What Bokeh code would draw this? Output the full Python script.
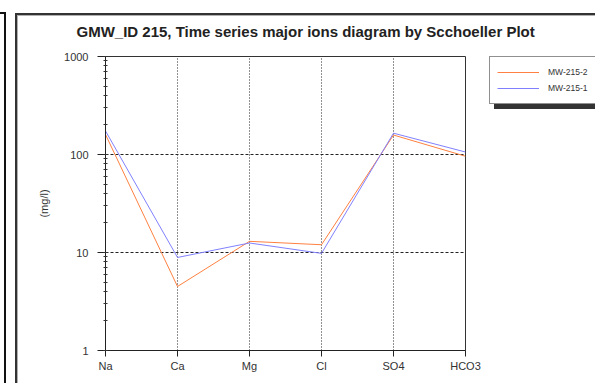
from bokeh.plotting import figure
from bokeh.models import (Range1d, FixedTicker, Legend, LegendItem, LogTicker)
from bokeh.embed import file_html
from bokeh.resources import INLINE

ions = ["Na", "Ca", "Mg", "Cl", "SO4", "HCO3"]
mw_215_2 = [160, 4.5, 13, 12, 158, 96]
mw_215_1 = [174, 8.9, 12.5, 9.8, 165, 106]
series_names = ["MW-215-2", "MW-215-1"]
series_colors = ["#ff8040", "#8080ff"]
y_ticks = [1, 10, 100, 1000]

xs = list(range(len(ions)))
FONT = "Liberation Sans"

p = figure(frame_width=360, frame_height=294, output_backend="svg", toolbar_location=None,
           y_axis_type="log", x_range=Range1d(0, len(ions) - 1),
           y_range=Range1d(1, 1000),
           min_border_left=105, min_border_right=0,
           min_border_top=56, min_border_bottom=33)
p.border_fill_color = None
p.background_fill_color = "white"

p.title.text = "GMW_ID 215, Time series major ions diagram by  Scchoeller Plot"
p.title.text_font = FONT
p.title.text_font_size = "15px"
p.title.text_font_style = "bold"
p.title.text_color = "#222222"
p.title.align = "left"
p.title.offset = -29
p.title.standoff = 34

p.outline_line_color = "#333333"
p.outline_line_width = 1

# x axis
p.xaxis.ticker = FixedTicker(ticks=xs)
p.xaxis.major_label_overrides = {i: n for i, n in enumerate(ions)}
p.xaxis.major_tick_out = 6
p.xaxis.major_tick_in = 0
p.xaxis.minor_tick_line_color = None
p.xaxis.major_label_text_font = FONT
p.xaxis.major_label_text_font_size = "11px"
p.xaxis.major_label_text_color = "#333333"
p.xaxis.major_label_standoff = 3
p.xaxis.axis_line_color = "#222222"
p.xaxis.major_tick_line_color = "#222222"

# y axis
p.yaxis.ticker = LogTicker(desired_num_ticks=4, num_minor_ticks=10)
p.yaxis.major_label_overrides = {t: str(t) for t in y_ticks}
p.yaxis.axis_label = "(mg/l)"
p.yaxis.axis_label_text_font = FONT
p.yaxis.axis_label_text_font_size = "11px"
p.yaxis.axis_label_text_font_style = "normal"
p.yaxis.axis_label_text_color = "#333333"
p.yaxis.axis_label_standoff = 11
p.yaxis.major_label_text_font = FONT
p.yaxis.major_label_text_font_size = "11px"
p.yaxis.major_label_text_color = "#333333"
p.yaxis.major_label_standoff = 9
p.yaxis.major_tick_out = 8
p.yaxis.major_tick_in = 0
p.yaxis.minor_tick_out = 2
p.yaxis.minor_tick_in = 2
p.yaxis.axis_line_color = "#222222"
p.yaxis.major_tick_line_color = "#222222"
p.yaxis.minor_tick_line_color = "#333333"

# grids
p.xgrid.grid_line_color = "#222222"
p.xgrid.grid_line_dash = "1 2"
p.xgrid.grid_line_width = 1
p.ygrid.grid_line_color = "#222222"
p.ygrid.grid_line_dash = "3 2"
p.ygrid.grid_line_width = 1

r2 = p.line(xs, mw_215_2, line_color=series_colors[0], line_width=1)
r1 = p.line(xs, mw_215_1, line_color=series_colors[1], line_width=1)

legend = Legend(items=[LegendItem(label=series_names[0], renderers=[r2]),
                       LegendItem(label=series_names[1], renderers=[r1])],
                location=(24, 246))
legend.label_text_font = FONT
legend.label_text_font_size = "8.5px"
legend.label_text_color = "#333333"
legend.glyph_width = 42
legend.glyph_height = 16
legend.label_height = 16
legend.label_standoff = 9
legend.padding = 7
legend.spacing = 0
legend.margin = 0
legend.border_line_color = "#222222"
legend.border_line_width = 1
legend.background_fill_color = "white"
legend.background_fill_alpha = 1
p.add_layout(legend, "right")

# surrounding window edges and legend shadow, drawn as the page background
edges = [  # (colour, x, y, w, h)
    ("#333333", 15, 13, 600, 2),
    ("#333333", 15, 13, 2, 400),
    ("#b0b0b0", 17, 15, 600, 1),
    ("#b0b0b0", 17, 15, 1, 400),
    ("#111111", 4, 12, 2, 400),
    ("#111111", 0, 12, 6, 2),
    ("#333333", 494, 104, 110, 5),
]
p.styles = {
    "background-color": "white",
    "background-image": ", ".join(f"linear-gradient({c},{c})" for c, *_ in edges),
    "background-position": ", ".join(f"{x}px {y}px" for _, x, y, _w, _h in edges),
    "background-size": ", ".join(f"{w}px {h}px" for *_, w, h in edges),
    "background-repeat": "no-repeat",
}

open("out.html", "w").write(file_html(p, INLINE))
